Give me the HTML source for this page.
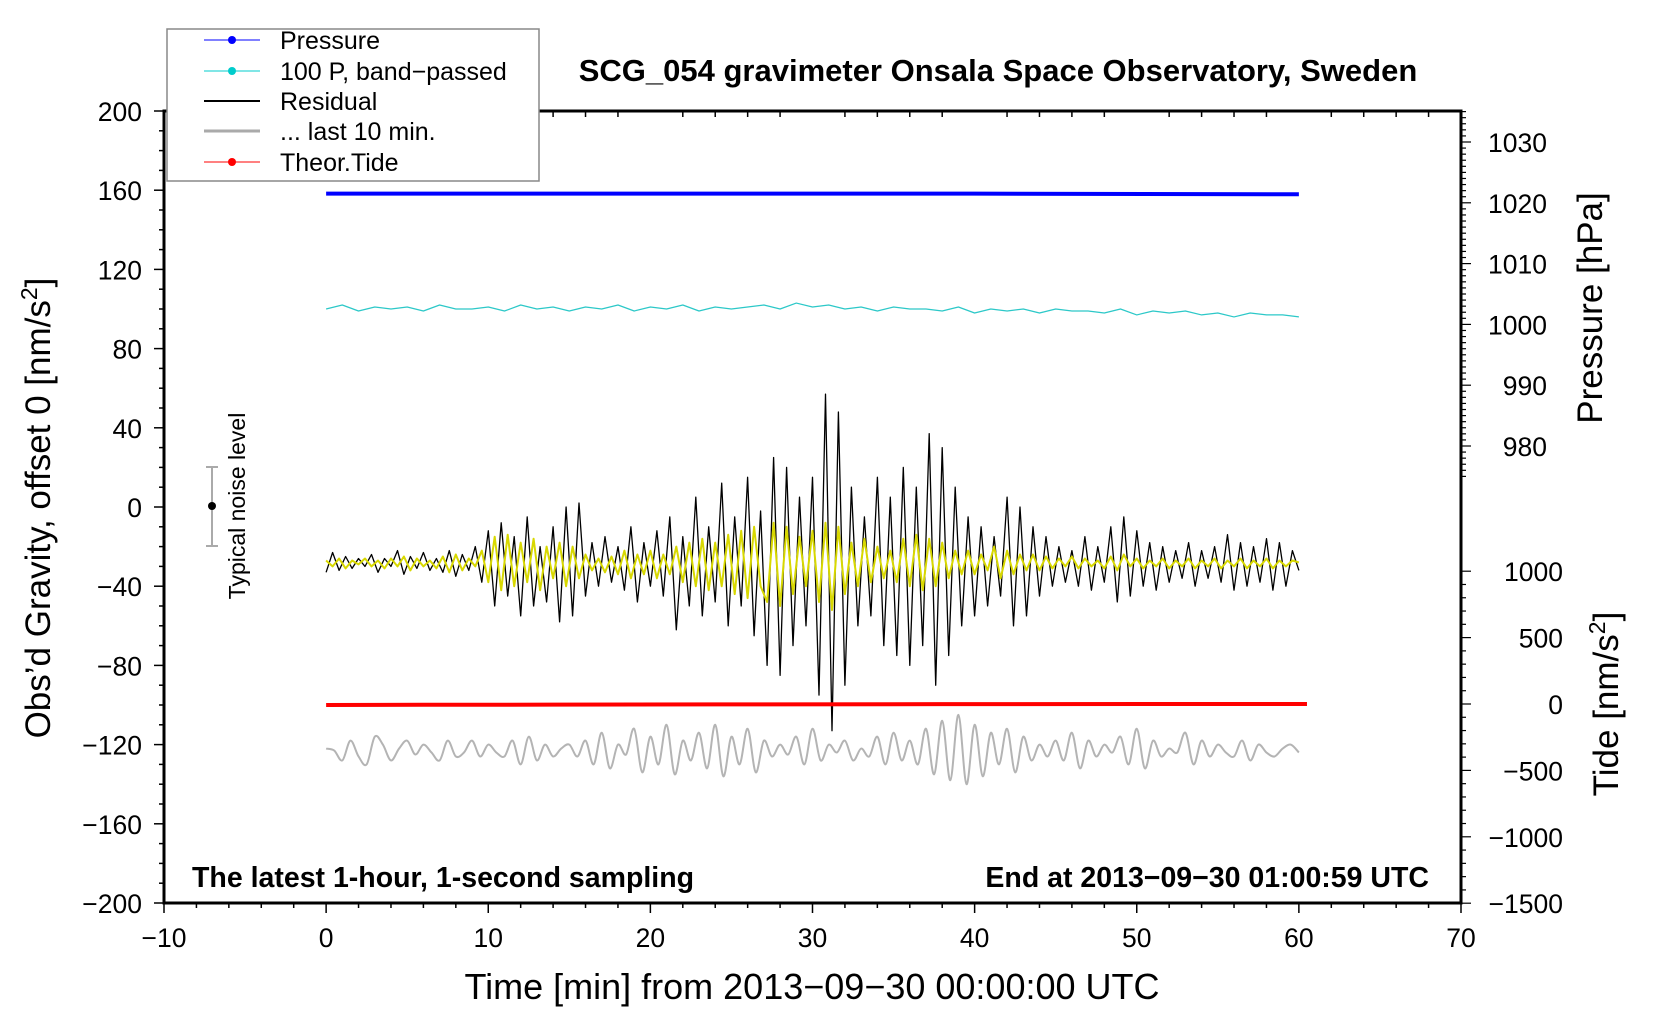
<!DOCTYPE html>
<html><head><meta charset="utf-8"><style>
html,body{margin:0;padding:0;background:#fff;}
svg{display:block;font-family:"Liberation Sans",sans-serif;}
</style></head><body>
<svg id="chart" width="1660" height="1020" viewBox="0 0 1660 1020" xmlns="http://www.w3.org/2000/svg">
<rect width="1660" height="1020" fill="#fff"/>
<g id="series"></g>
<g id="axes"></g>
<text x="998" y="81" font-size="31" font-weight="bold" text-anchor="middle">SCG_054 gravimeter Onsala Space Observatory, Sweden</text>
<text x="812" y="999" font-size="36" text-anchor="middle">Time [min] from 2013−09−30 00:00:00 UTC</text>
<text transform="translate(50,508) rotate(-90)" font-size="35" text-anchor="middle">Obs’d Gravity, offset 0 [nm/s<tspan font-size="23" dy="-13">2</tspan><tspan dy="13">]</tspan></text>
<text transform="translate(1602,308) rotate(-90)" font-size="35" text-anchor="middle">Pressure [hPa]</text>
<text transform="translate(1618,704) rotate(-90)" font-size="35" text-anchor="middle">Tide [nm/s<tspan font-size="23" dy="-13">2</tspan><tspan dy="13">]</tspan></text>
<text x="192" y="887" font-size="28.5" font-weight="bold">The latest 1-hour, 1-second sampling</text>
<text x="1429" y="887" font-size="28.5" font-weight="bold" text-anchor="end">End at 2013−09−30 01:00:59 UTC</text>
<g>
<line x1="212" y1="467" x2="212" y2="546" stroke="#aaa" stroke-width="2"/>
<line x1="206" y1="467" x2="218" y2="467" stroke="#aaa" stroke-width="2"/>
<line x1="206" y1="546" x2="218" y2="546" stroke="#aaa" stroke-width="2"/>
<circle cx="212" cy="506" r="4" fill="#000"/>
</g>
<text transform="translate(245,506) rotate(-90)" font-size="23" text-anchor="middle">Typical noise level</text>
<g>
<rect x="167" y="29" width="372" height="152" fill="#fff" stroke="#888" stroke-width="1.5"/>
<g><line x1="204" y1="40" x2="260" y2="40" stroke="#00f" stroke-width="1"/><circle cx="232" cy="40" r="4" fill="#00f"/><text x="280" y="49" font-size="25">Pressure</text></g>
<g><line x1="204" y1="71" x2="260" y2="71" stroke="#0cc" stroke-width="1"/><circle cx="232" cy="71" r="4" fill="#0cc"/><text x="280" y="80" font-size="25">100 P, band−passed</text></g>
<g><line x1="204" y1="101" x2="260" y2="101" stroke="#000" stroke-width="2"/><text x="280" y="110" font-size="25">Residual</text></g>
<g><line x1="204" y1="131" x2="260" y2="131" stroke="#aaa" stroke-width="3"/><text x="280" y="140" font-size="25">... last 10 min.</text></g>
<g><line x1="204" y1="162" x2="260" y2="162" stroke="#f00" stroke-width="1"/><circle cx="232" cy="162" r="4" fill="#f00"/><text x="280" y="171" font-size="25">Theor.Tide</text></g>
</g>
</svg>
<script>
const residual = [-33,-23,-32,-25,-31,-26,-30,-24,-33,-26,-30,-22,-34,-25,-31,-23,-32,-26,-33,-22,-35,-24,-32,-20,-38,
-12,-50,-8,-45,-15,-55,-5,-50,-20,-48,-10,-58,0,-55,2,-45,
-18,-40,-15,-38,-20,-42,-10,-48,-18,-40,-12,-45,
-5,-62,-15,-50,5,-55,-10,-48,12,-60,-5,-50,15,-65,-2,
-80,25,-85,20,-70,5,-60,
15,-95,57,-113,48,-90,
10,-60,-5,-55,15,-70,5,
-75,20,-80,10,-70,37,-90,30,-75,10,
-60,-5,-55,-10,-50,-15,-45,5,-60,0,-55,-10,-45,-15,-40,
-20,-38,-22,-40,-15,-42,-20,-38,-10,-48,-5,-45,-12,-40,-18,
-42,-20,-38,-22,-36,-18,-40,-22,-36,-20,-38,-14,-42,-18,-40,-20,-38,-16,-42,-18,-40,-22,-32];
const filtered = [-27,-30,-26,-31,-27,-29,-26,-30,-27,-31,-26,-30,-25,-32,-26,-30,-27,-31,-25,-33,-24,-32,-26,-30,-22,
-38,-15,-42,-14,-40,-18,-38,-16,-42,-20,-36,-18,-40,-20,-36,-24,
-32,-26,-33,-25,-34,-22,-36,-24,-34,-22,-36,-24,
-34,-20,-38,-18,-40,-16,-42,-18,-40,-14,-44,-12,-46,-10,-40,
-48,-8,-50,-10,-44,-15,-40,
-12,-48,-8,-52,-10,-44,
-18,-40,-16,-38,-20,-36,-22,
-38,-16,-40,-14,-42,-16,-40,-18,-36,-22,
-34,-22,-34,-24,-32,-20,-36,-22,-34,-24,-32,-24,-32,-25,-31,
-26,-30,-25,-31,-26,-30,-27,-31,-25,-32,-24,-30,-26,-31,-27,
-30,-26,-31,-27,-30,-26,-31,-27,-30,-26,-31,-27,-30,-26,-31,-27,-30,-26,-31,-27,-30,-27,-28];
const last10 = [-122,-123,-128,-118,-126,-130,-116,-120,-128,-122,-118,-125,-120,-124,-128,-118,-126,-124,-118,-126,-120,-124,-126,-118,-130,-116,-128,-120,-126,-122,-120,-126,-118,-130,-114,-132,-120,-125,-112,-134,-116,-130,-110,-135,-118,-128,-114,-132,-110,-136,-116,-130,-112,-134,-118,-126,-120,-125,-116,-130,-112,-128,-120,-124,-118,-128,-122,-126,-116,-130,-114,-128,-118,-130,-112,-135,-108,-138,-105,-140,-110,-136,-114,-130,-112,-134,-116,-128,-120,-126,-118,-128,-114,-132,-118,-126,-120,-124,-116,-130,-112,-132,-118,-126,-122,-124,-114,-130,-118,-126,-120,-124,-126,-118,-128,-120,-124,-126,-122,-120,-124];
const bandpassed = [100,102,99,101,100,101,99,102,100,100,101,99,102,100,101,99,101,100,102,99,101,100,102,99,101,100,101,102,100,103,101,102,100,101,99,101,100,100,99,101,98,100,99,100,98,100,99,99,98,100,97,99,98,99,97,98,96,98,97,97,96];
const pressureTimes = [0, 20, 40, 60];
const pressureHpa = [1021.5, 1021.5, 1021.5, 1021.4];
const tideTimes = [0, 6, 14, 24, 38, 60.5];
const tideVals = [-8, -6, -5, -3, -1, 0];
const xTicks = [-10,0,10,20,30,40,50,60,70];
const yTicks = [200,160,120,80,40,0,-40,-80,-120,-160,-200];
const pTicks = [1030,1020,1010,1000,990,980];
const tTicks = [1000,500,0,-500,-1000,-1500];

const X0=164, X1=1461, Y0=111, Y1=903;
const xs = t => X0 + (t+10)/80*(X1-X0);
const ys = v => Y0 + (200-v)/400*(Y1-Y0);
const ps = p => 142 + (1030-p)*6.08;
const ts = v => 704 - v*0.1328;
const NS='http://www.w3.org/2000/svg';
const series=document.getElementById('series'), axes=document.getElementById('axes');
function mk(tag, parent){const e=document.createElementNS(NS,tag);parent.appendChild(e);return e;}
function poly(arr, tmax, yf, color, w, name){
  const n=arr.length; const pts=arr.map((v,i)=>xs(i*tmax/(n-1)).toFixed(1)+','+yf(v).toFixed(1)).join(' ');
  const p=mk('polyline',series);
  
  
  p.setAttribute('points',pts);p.setAttribute('fill','none');p.setAttribute('stroke',color);p.setAttribute('stroke-width',w);p.setAttribute('stroke-linejoin','round');
}
function smooth(arr, tmax, yf, color, w, name){
  const n=arr.length; const P=arr.map((v,i)=>[xs(i*tmax/(n-1)), yf(v)]);
  let d='M'+P[0][0]+','+P[0][1];
  for(let i=0;i<n-1;i++){const a=P[Math.max(i-1,0)],b=P[i],c=P[i+1],e=P[Math.min(i+2,n-1)];
    d+=' C'+(b[0]+(c[0]-a[0])/6)+','+(b[1]+(c[1]-a[1])/6)+' '+(c[0]-(e[0]-b[0])/6)+','+(c[1]-(e[1]-b[1])/6)+' '+c[0]+','+c[1];}
  const p=mk('path',series);
  
  
  p.setAttribute('d',d);p.setAttribute('fill','none');p.setAttribute('stroke',color);p.setAttribute('stroke-width',w);
}
smooth(last10,60,ys,'#b4b4b4',2,'last-10-min-line');
poly(bandpassed,60,ys,'#2cc8c8',1.2,'bandpassed-pressure-line');
poly(residual,60,ys,'#000',1.3,'residual-line');
poly(filtered,60,ys,'#d8d800',2,'filtered-residual-line');
{const p=mk('polyline',series);


p.setAttribute('points',pressureTimes.map((t,i)=>xs(t)+','+ps(pressureHpa[i])).join(' '));p.setAttribute('fill','none');p.setAttribute('stroke','#00f');p.setAttribute('stroke-width',4);}
{const p=mk('polyline',series);


p.setAttribute('points',tideTimes.map((t,i)=>xs(t)+','+ts(tideVals[i])).join(' '));p.setAttribute('fill','none');p.setAttribute('stroke','#f00');p.setAttribute('stroke-width',4);}

function line(x1,y1,x2,y2,w){const l=mk('line',axes);l.setAttribute('x1',x1);l.setAttribute('y1',y1);l.setAttribute('x2',x2);l.setAttribute('y2',y2);l.setAttribute('stroke','#000');l.setAttribute('stroke-width',w||1.5);return l;}
function text(x,y,s,anchor,name){const t=mk('text',axes);


t.setAttribute('x',x);t.setAttribute('y',y);t.setAttribute('font-size','26.5');t.setAttribute('text-anchor',anchor);t.textContent=s;}
const frame=mk('path',axes);


frame.setAttribute('d',`M${X0},${Y0}H${X1}V${Y1}H${X0}Z`);frame.setAttribute('fill','none');frame.setAttribute('stroke','#000');frame.setAttribute('stroke-width','3');
const minus = v => (v<0?'−':'')+Math.abs(v);
for(let t=-10;t<=70;t+=2){const big=t%10===0;line(xs(t),Y1,xs(t),Y1+(big?10:5));line(xs(t),Y0,xs(t),Y0+(big?0:6));}
xTicks.forEach(t=>text(xs(t),Y1+44,minus(t),'middle','x-tick-label'));
for(let v=-200;v<=200;v+=10){const big=v%40===0;line(X0,ys(v),X0-(big?10:5),ys(v));}
yTicks.forEach(v=>text(X0-22,ys(v)+10,minus(v),'end','y-tick-label'));
for(let p=975;p<=1035;p+=1){line(X1,ps(p),X1+(p%10===0?10:5),ps(p),1.2);}
pTicks.forEach(p=>text(1547,ps(p)+10,p,'end','pressure-tick-label'));
for(let v=-1500;v<=1000;v+=100){line(X1,ts(v),X1+(v%500===0?10:5),ts(v),1.2);}
tTicks.forEach(v=>text(1563,ts(v)+10,minus(v),'end','tide-tick-label'));
</script>
</body></html>
